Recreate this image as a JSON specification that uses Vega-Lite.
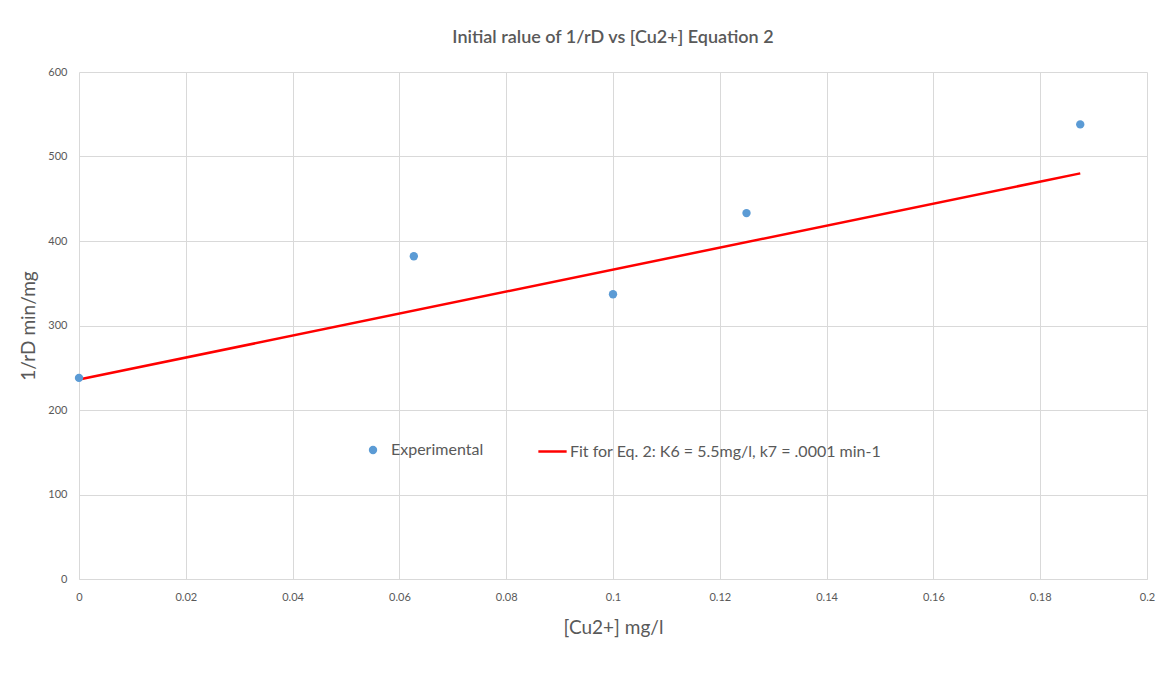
{
  "$schema": "https://vega.github.io/schema/vega-lite/v6.json",
  "autosize": {"type": "none"},
  "padding": {"left": 79, "top": 72, "right": 22, "bottom": 107},
  "width": 1068,
  "height": 507,
  "background": "white",
  "title": {
    "text": "Initial ralue of 1/rD vs [Cu2+] Equation 2",
    "anchor": "middle",
    "font": "Lato",
    "fontSize": 18,
    "fontWeight": 600,
    "color": "#595959",
    "offset": 19
  },
  "config": {
    "view": {"stroke": null},
    "font": "Lato",
    "axis": {
      "labelFont": "Lato",
      "labelFontSize": 11,
      "labelColor": "#595959",
      "titleFont": "Lato",
      "titleFontSize": 19,
      "titleFontWeight": "normal",
      "titleColor": "#595959",
      "gridColor": "#d9d9d9",
      "gridWidth": 1,
      "ticks": false
    }
  },
  "data": {
    "values": [
      {"cu": 0.0, "inv": 238, "series": "Experimental"},
      {"cu": 0.0627, "inv": 382, "series": "Experimental"},
      {"cu": 0.1, "inv": 337, "series": "Experimental"},
      {"cu": 0.125, "inv": 433, "series": "Experimental"},
      {"cu": 0.1875, "inv": 538, "series": "Experimental"},
      {"cu": 0.0, "inv": 236, "series": "Fit for Eq. 2: K6 = 5.5mg/l, k7 = .0001 min-1"},
      {"cu": 0.1875, "inv": 480, "series": "Fit for Eq. 2: K6 = 5.5mg/l, k7 = .0001 min-1"}
    ]
  },
  "encoding": {
    "x": {
      "field": "cu",
      "type": "quantitative",
      "scale": {"domain": [0, 0.2], "nice": false},
      "axis": {
        "title": "[Cu2+] mg/l",
        "values": [0, 0.02, 0.04, 0.06, 0.08, 0.1, 0.12, 0.14, 0.16, 0.18, 0.2],
        "labelExpr": "datum.value == 0 ? '0' : replace(format(datum.value, '.2f'), /0$/, '')",
        "labelPadding": 12,
        "titlePadding": 16,
        "domain": true,
        "domainColor": "#d9d9d9",
        "labelFlush": false
      }
    },
    "y": {
      "field": "inv",
      "type": "quantitative",
      "scale": {"domain": [0, 600], "nice": false},
      "axis": {
        "title": "1/rD min/mg",
        "values": [0, 100, 200, 300, 400, 500, 600],
        "labelPadding": 12,
        "titlePadding": 9,
        "domain": false
      }
    }
  },
  "layer": [
    {
      "transform": [{"filter": "datum.series != 'Experimental'"}],
      "mark": {"type": "line", "strokeWidth": 2.5},
      "encoding": {
        "stroke": {
          "field": "series",
          "type": "nominal",
          "scale": {"range": ["#FF0000"]},
          "legend": {
            "orient": "none",
            "legendX": 458,
            "legendY": 364,
            "title": null,
            "symbolType": "stroke",
            "symbolSize": 800,
            "symbolStrokeWidth": 2.5,
            "labelFont": "Lato",
            "labelFontSize": 16,
            "labelColor": "#595959",
            "labelOffset": 2,
            "labelLimit": 600
          }
        }
      }
    },
    {
      "transform": [{"filter": "datum.series == 'Experimental'"}],
      "mark": {"type": "point", "filled": true, "size": 70, "opacity": 1},
      "encoding": {
        "fill": {
          "field": "series",
          "type": "nominal",
          "scale": {"range": ["#5B9BD5"]},
          "legend": {
            "orient": "none",
            "legendX": 286,
            "legendY": 370,
            "title": null,
            "symbolType": "circle",
            "symbolSize": 70,
            "symbolOpacity": 1,
            "labelFont": "Lato",
            "labelFontSize": 16,
            "labelColor": "#595959",
            "labelOffset": 10
          }
        }
      }
    }
  ]
}
